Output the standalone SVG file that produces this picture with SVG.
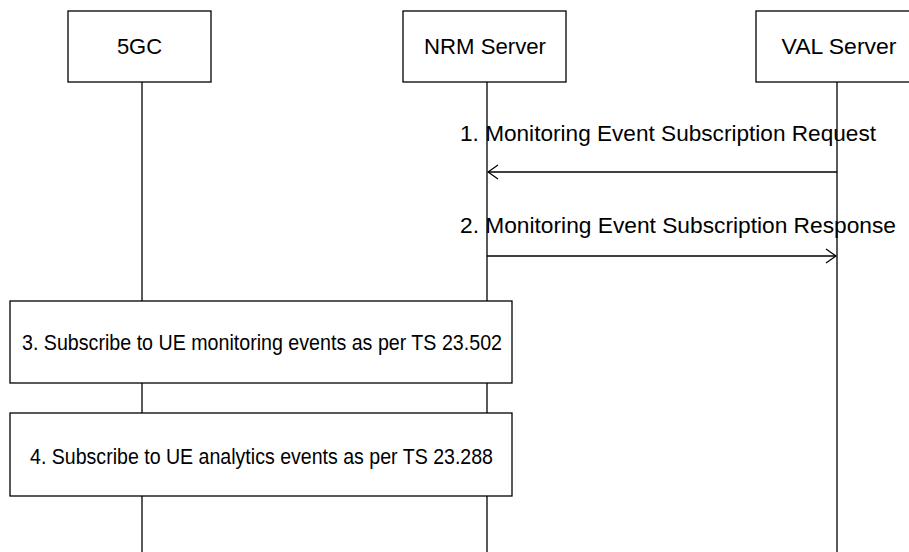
<svg xmlns="http://www.w3.org/2000/svg" width="909" height="552" viewBox="0 0 909 552">
<style>
.box{fill:#fff;stroke:#000;stroke-width:1.3}
.life{stroke:#000;stroke-width:1.3;fill:none}
.msg{stroke:#000;stroke-width:1.3;fill:none}
.t{font-family:"Liberation Sans",Arial,sans-serif;font-size:22px;fill:#000;text-anchor:middle}
</style>
<defs>
<marker id="open" markerWidth="12" markerHeight="16" refX="11" refY="8" orient="auto" markerUnits="userSpaceOnUse">
<path d="M1,1 L11,8 L1,15" fill="none" stroke="#000" stroke-width="1.3"/>
</marker>
</defs>
<rect width="909" height="552" fill="#fff"/>
<g id="lifelines">
<line class="life" x1="142" y1="82" x2="142" y2="552"/>
<line class="life" x1="487" y1="82" x2="487" y2="552"/>
<line class="life" x1="837" y1="82" x2="837" y2="552"/>
</g>
<g id="node-5gc">
<rect class="box" x="68" y="11" width="143" height="71"/>
<text class="t" x="139.5" y="54">5GC</text>
</g>
<g id="node-nrm">
<rect class="box" x="403" y="11" width="163" height="71"/>
<text class="t" x="485" y="54" textLength="122" lengthAdjust="spacingAndGlyphs">NRM Server</text>
</g>
<g id="node-val">
<rect class="box" x="756" y="11" width="170" height="71"/>
<text class="t" x="839" y="54" textLength="115" lengthAdjust="spacingAndGlyphs">VAL Server</text>
</g>
<g id="connectors">
<line class="msg" x1="837" y1="172" x2="488" y2="172" marker-end="url(#open)"/>
<text class="t" x="668" y="141" textLength="416" lengthAdjust="spacingAndGlyphs">1. Monitoring Event Subscription Request</text>
<line class="msg" x1="487" y1="256" x2="836" y2="256" marker-end="url(#open)"/>
<text class="t" x="678" y="233" textLength="436" lengthAdjust="spacingAndGlyphs">2. Monitoring Event Subscription Response</text>
</g>
<g id="step3">
<rect class="box" x="10" y="301" width="502" height="82"/>
<text class="t" x="262" y="350" textLength="480" lengthAdjust="spacingAndGlyphs">3. Subscribe to UE monitoring events as per TS 23.502</text>
</g>
<g id="step4">
<rect class="box" x="10" y="413" width="502" height="83"/>
<text class="t" x="261.5" y="464" textLength="463" lengthAdjust="spacingAndGlyphs">4. Subscribe to UE analytics events as per TS 23.288</text>
</g>
</svg>
